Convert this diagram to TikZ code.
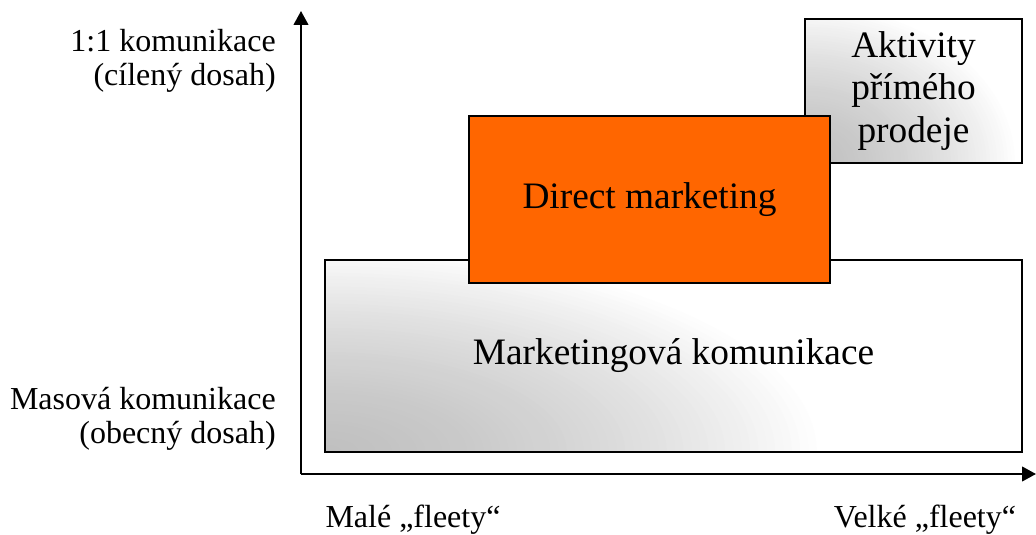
\documentclass[tikz,border=0pt]{standalone}
\usepackage{fontspec}
\setmainfont{Liberation Serif}
\usetikzlibrary{arrows.meta}

\begin{document}
\begin{tikzpicture}[x=0.75pt,y=-0.75pt,
  axis/.style={line width=1.6pt,-{Triangle[length=10.5pt,width=11pt]}},
  box/.style={draw=black,line width=1.5pt,inner sep=0pt,align=center,
    font=\fontsize{28}{32}\selectfont},
  % white box with a grey glow fading out from its lower-left corner,
  % built from nested ellipses that get lighter towards the rim
  fadebox/.style 2 args={box,fill=white,
    path picture={
      \foreach \i in {60,59,...,1}{
        \pgfmathsetmacro\t{\i/60}
        \pgfmathsetmacro\g{25*(1-\t)*(1+0.6*\t)}
        \fill[black!\g] (path picture bounding box.south west)
          ellipse [x radius=\t*#1,y radius=\t*#2];}}},
  sidelabel/.style={anchor=east,align=right,inner sep=0pt,
    font=\fontsize{24}{25.5}\selectfont},
  footlabel/.style={inner sep=0pt,font=\fontsize{24}{25.5}\selectfont}]

\useasboundingbox (0,0) rectangle (1036,535);

% axes
\coordinate (O) at (301,474);
\coordinate (ytop) at (301,11);
\coordinate (xend) at (1036,474);
\draw[axis] (O) -- (ytop);
\draw[axis] (O) -- (xend);

% boxes
\node[fadebox={375pt}{155pt},minimum width=522.75pt,minimum height=144pt]
  (mk) at (673.5,356) {Marketingová komunikace};
\node[fadebox={160pt}{120pt},minimum width=162.75pt,minimum height=108pt]
  (akt) at (913.5,91) {Aktivity\\přímého\\prodeje};
\node[box,fill={rgb,255:red,255;green,102;blue,0},minimum width=270.75pt,minimum height=125.25pt]
  (dm) at (649.5,199.5) {Direct marketing};

% axis labels
\node[sidelabel] (top) at (276,61) {1:1 komunikace\\(cílený dosah)};
\node[sidelabel] (bottom) at (276,419) {Masová komunikace\\(obecný dosah)};
\node[footlabel] (small) at (413,520) {Malé „fleety“};
\node[footlabel] (large) at (925,520) {Velké „fleety“};
\end{tikzpicture}
\end{document}
